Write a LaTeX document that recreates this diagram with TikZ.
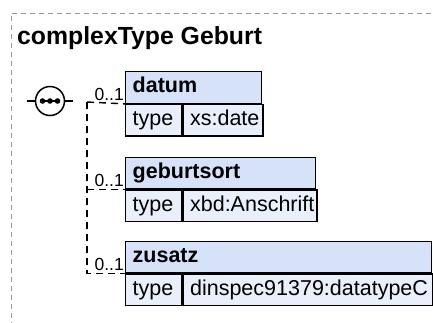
\documentclass[tikz,border=0pt]{standalone}
\usepackage{fontspec}
\setmainfont{Liberation Sans}
\usetikzlibrary{%
    calc, %
    positioning%
}
\definecolor{headblue}{RGB}{214,226,248}
\definecolor{cellblue}{RGB}{233,240,251}
\definecolor{framegray}{RGB}{150,150,150}
\tikzset{
    elhead/.style={draw, fill=headblue, line width=1.4pt, anchor=north west, inner xsep=7pt, inner ysep=0pt,
        minimum height=31.5pt, text height=15.5pt, text depth=4.5pt, align=left, font=\fontsize{21.5}{25}\selectfont\bfseries},
    elcell/.style={draw, fill=cellblue, line width=1.4pt, inner xsep=7pt, inner ysep=0pt,
        minimum height=31.5pt, text height=15.5pt, text depth=4.5pt, align=left, font=\fontsize{21.5}{25}\selectfont},
    conn/.style={line width=1.4pt, dash pattern=on 7pt off 5pt},
    mult/.style={anchor=south east, inner xsep=1pt, inner ysep=3pt, font=\fontsize{17.5}{20}\selectfont},
}
\begin{document}
\begin{tikzpicture}[x=1pt, y=-1pt]
				\useasboundingbox (0,0) rectangle (433,322);
				\draw[framegray, line width=1pt, dash pattern=on 5pt off 4pt] (440,13) -- (11,13) -- (11,330);
				\node[anchor=base west, inner sep=0pt, font=\fontsize{24.8}{29}\selectfont\bfseries] (title) at (17,44) {complexType Geburt};

				% sequence
				\node[circle, draw, line width=1.5pt, minimum size=29pt, inner sep=0pt] (seq) at (50,101) {};
				\draw[line width=1.5pt] ($(seq)+(-9,0)$) -- ($(seq)+(9,0)$);
				\foreach \dx in {-7.5,0,7.5}
					\fill ($(seq)+(\dx,0)$) circle (2.8pt);
				\draw[line width=1.4pt] (seq.west) -- ++(-8,0);
				\coordinate (fork) at (87,102);

				% elements
				\node[elhead, text width=122pt] (datum) at (125,71) {datum};
				\node[elcell, text width=42pt, below=0pt of datum.south west, anchor=north west] (datumkey) {type};
				\node[elcell, text width=66pt, right=0pt of datumkey] (datumval) {xs:date};

				\node[elhead, text width=176pt] (gort) at (125,156.5) {geburtsort};
				\node[elcell, text width=42pt, below=0pt of gort.south west, anchor=north west] (gortkey) {type};
				\node[elcell, text width=120pt, right=0pt of gortkey] (gortval) {xbd:Anschrift};

				\node[elhead, text width=292pt] (zusatz) at (125,240.5) {zusatz};
				\node[elcell, text width=42pt, below=0pt of zusatz.south west, anchor=north west] (zusatzkey) {type};
				\node[elcell, text width=236pt, right=0pt of zusatzkey] (zusatzval) {dinspec91379:datatypeC};

				% connectors
				\draw[line width=1.4pt] (seq.east) -- ++(8,0);
				\draw[conn] (fork) |- (zusatz.south west);
				\draw[conn] (fork) -- (datum.south west);
				\draw[conn] (fork |- gort.south west) -- (gort.south west);

				\node[mult] (mdatum) at (datum.south west) {0..1};
				\node[mult] (mgort) at (gort.south west) {0..1};
				\node[mult] (mzusatz) at (zusatz.south west) {0..1};
			\end{tikzpicture}
\end{document}
